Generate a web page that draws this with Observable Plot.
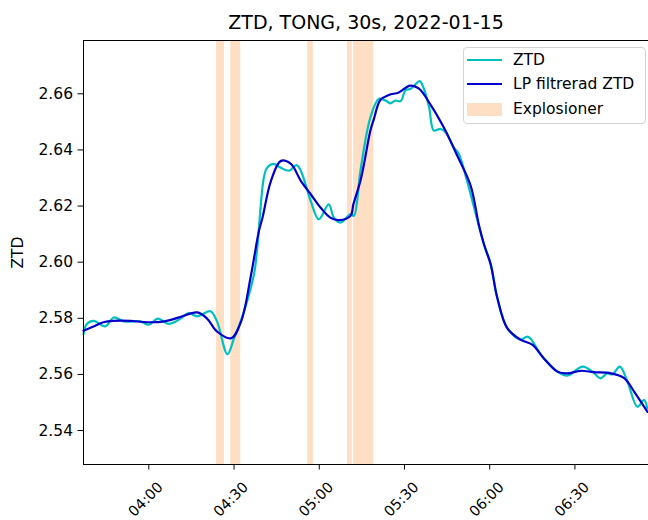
<!DOCTYPE html>
<html><head><meta charset="utf-8">
<script src="https://cdn.jsdelivr.net/npm/d3@7"></script>
<script src="https://cdn.jsdelivr.net/npm/@observablehq/plot@0.6"></script>
<style>
body{margin:0;background:#fff;}
#wrap{position:relative;width:648px;height:520px;overflow:hidden;font-family:"DejaVu Sans",sans-serif;}
#legend{position:absolute;left:463px;top:47px;width:183px;height:77px;box-sizing:border-box;border:1px solid #d4d4d4;border-radius:4px;background:rgba(255,255,255,0.8);font-size:15.5px;color:#000;}
.item{position:absolute;left:0;width:100%;height:20px;}
.sw{position:absolute;left:3px;width:35px;}
.lbl{position:absolute;left:49px;top:0;line-height:20px;white-space:nowrap;}
</style></head>
<body><div id="wrap"><div id="chart"></div><div id="legend"></div></div>
<script>
const title = "ZTD, TONG, 30s, 2022-01-15";
const yLabel = "ZTD";
const seriesNames = ["ZTD", "LP filtrerad ZTD", "Explosioner"];

const ztdTimes = ["03:37:00","03:38:10","03:40:40","03:44:40","03:47:40","03:51:10","03:57:00","04:00:00","04:03:10","04:07:00","04:11:10","04:14:00","04:17:00","04:21:40","04:24:00","04:27:40","04:30:00","04:32:20","04:37:00","04:38:10","04:40:30","04:41:40","04:44:00","04:46:20","04:49:20","04:52:00","04:53:30","04:57:00","04:59:50","05:03:20","05:05:10","05:07:30","05:11:00","05:12:10","05:14:30","05:18:00","05:21:00","05:23:20","05:25:00","05:26:50","05:28:40","05:30:20","05:32:10","05:33:30","05:35:20","05:36:50","05:38:40","05:40:20","05:42:40","05:44:30","05:47:20","05:49:10","05:52:00","05:58:00","06:00:20","06:02:40","06:06:10","06:10:50","06:13:10","06:14:20","06:17:50","06:19:00","06:23:50","06:27:20","06:32:40","06:36:10","06:39:00","06:41:20","06:43:10","06:45:50","06:48:30","06:52:00","06:54:20","06:55:30"];
const ztdValues = [2.5744,2.5780,2.5791,2.5771,2.5803,2.5789,2.5789,2.5777,2.5799,2.5780,2.5799,2.5819,2.5807,2.5825,2.5789,2.5672,2.5729,2.5789,2.5956,2.6051,2.6302,2.6337,2.6350,2.6337,2.6326,2.6346,2.6326,2.6218,2.6153,2.6206,2.6158,2.6141,2.6171,2.6165,2.6326,2.6516,2.6582,2.6576,2.6566,2.6576,2.6574,2.6612,2.6618,2.6630,2.6645,2.6618,2.6552,2.6469,2.6475,2.6463,2.6409,2.6385,2.6290,2.6063,2.5995,2.5873,2.5765,2.5724,2.5735,2.5728,2.5672,2.5658,2.5610,2.5596,2.5628,2.5610,2.5586,2.5604,2.5600,2.5628,2.5574,2.5485,2.5509,2.5479];

const lpTimes = ["03:37:00","03:40:30","03:44:00","03:47:30","03:53:30","03:59:30","04:05:30","04:11:00","04:17:00","04:20:30","04:24:00","04:29:00","04:32:30","04:36:00","04:38:45","04:40:00","04:43:00","04:46:30","04:50:00","04:53:30","04:57:00","05:00:30","05:04:00","05:07:00","05:11:00","05:12:00","05:14:30","05:15:45","05:18:00","05:19:15","05:21:30","05:24:30","05:28:00","05:32:00","05:35:00","05:39:15","05:44:00","05:48:30","05:53:15","05:56:15","05:58:00","06:00:20","06:02:40","06:06:10","06:10:50","06:15:00","06:19:00","06:23:50","06:27:20","06:32:00","06:36:40","06:42:40","06:47:20","06:50:50","06:55:30"];
const lpValues = [2.5756,2.5771,2.5786,2.5791,2.5791,2.5786,2.5789,2.5804,2.5821,2.5799,2.5753,2.5729,2.5789,2.5956,2.6111,2.6158,2.6290,2.6361,2.6350,2.6290,2.6242,2.6194,2.6158,2.6150,2.6165,2.6206,2.6290,2.6350,2.6469,2.6511,2.6578,2.6596,2.6605,2.6629,2.6619,2.6560,2.6477,2.6381,2.6274,2.6130,2.6063,2.5992,2.5873,2.5765,2.5724,2.5706,2.5658,2.5610,2.5604,2.5613,2.5608,2.5604,2.5587,2.5539,2.5467];

const bandStart = ["04:23:50","04:28:50","04:55:55","05:09:55","05:12:05"];
const bandEnd   = ["04:26:40","04:32:20","04:57:55","05:11:35","05:19:10"];

const xTickLabels = ["04:00","04:30","05:00","05:30","06:00","06:30"];
const yTicks = [2.54, 2.56, 2.58, 2.60, 2.62, 2.64, 2.66];
const xDomain = ["03:37:00", "06:55:54"];
const yDomain = [2.5279, 2.6790];

const colors = {ztd: "#00bfbf", lp: "#0000cd", band: "#ff7f0e"};

const parse = t => new Date(`2022-01-15T${t.length === 5 ? t + ":00" : t}Z`);
const ztd = ztdTimes.map((t, i) => ({time: parse(t), value: ztdValues[i]}));
const lp = lpTimes.map((t, i) => ({time: parse(t), value: lpValues[i]}));
const bands = bandStart.map((s, i) => ({start: parse(s), end: parse(bandEnd[i])}));
const xTicks = xTickLabels.map(parse);
const x0 = parse(xDomain[0]), x1 = parse(xDomain[1]);

const chart = Plot.plot({
  width: 648, height: 520,
  marginLeft: 83, marginRight: 0, marginTop: 40, marginBottom: 56,
  style: {fontFamily: "DejaVu Sans", fontSize: "15.5px", color: "black", background: "white", overflow: "visible"},
  x: {type: "utc", domain: [x0, x1]},
  y: {domain: yDomain},
  marks: [
    Plot.rect(bands, {x1: "start", x2: "end", fill: colors.band, fillOpacity: 0.25}),
    Plot.line(ztd, {x: "time", y: "value", stroke: colors.ztd, strokeWidth: 2.2, curve: "catmull-rom"}),
    Plot.line(lp, {x: "time", y: "value", stroke: colors.lp, strokeWidth: 2.2, curve: "catmull-rom"}),
    Plot.ruleX([x0], {stroke: "black", strokeWidth: 1}),
    Plot.ruleY([yDomain[0]], {stroke: "black", strokeWidth: 1}),
    Plot.ruleY([yDomain[1]], {stroke: "black", strokeWidth: 1}),
    Plot.axisY({ticks: yTicks, tickSize: 5.5, tickPadding: 5, tickFormat: d3.format(".2f"), label: null}),
    Plot.axisX({ticks: xTicks, tickSize: 5.5, tickFormat: () => "", label: null}),
    Plot.text(xTicks, {x: d => d, text: d3.utcFormat("%H:%M"), frameAnchor: "bottom", dy: 35, dx: -3, rotate: -45, textAnchor: "middle", lineAnchor: "middle", fontSize: 14.5}),
    Plot.text([title], {frameAnchor: "top", dy: -12, lineAnchor: "bottom", fontSize: 19}),
    Plot.text([yLabel], {frameAnchor: "left", dx: -65, rotate: -90, textAnchor: "middle", lineAnchor: "middle", fontSize: 15.5})
  ]
});
document.getElementById("chart").appendChild(chart);

// legend
const leg = document.getElementById("legend");
const tops = [2.3, 26.3, 51.3];
seriesNames.forEach((name, i) => {
  const item = document.createElement("div");
  item.className = "item";
  item.style.top = tops[i] + "px";
  const sw = document.createElement("div");
  sw.className = "sw";
  if (i < 2) {
    sw.style.top = "8.8px"; sw.style.height = "2.4px";
    sw.style.background = i === 0 ? colors.ztd : colors.lp;
  } else {
    sw.style.top = "3.4px"; sw.style.height = "13.3px";
    sw.style.background = "rgba(255,127,14,0.25)";
  }
  const lbl = document.createElement("div");
  lbl.className = "lbl";
  lbl.textContent = name;
  item.appendChild(sw); item.appendChild(lbl);
  leg.appendChild(item);
});
</script></body></html>
